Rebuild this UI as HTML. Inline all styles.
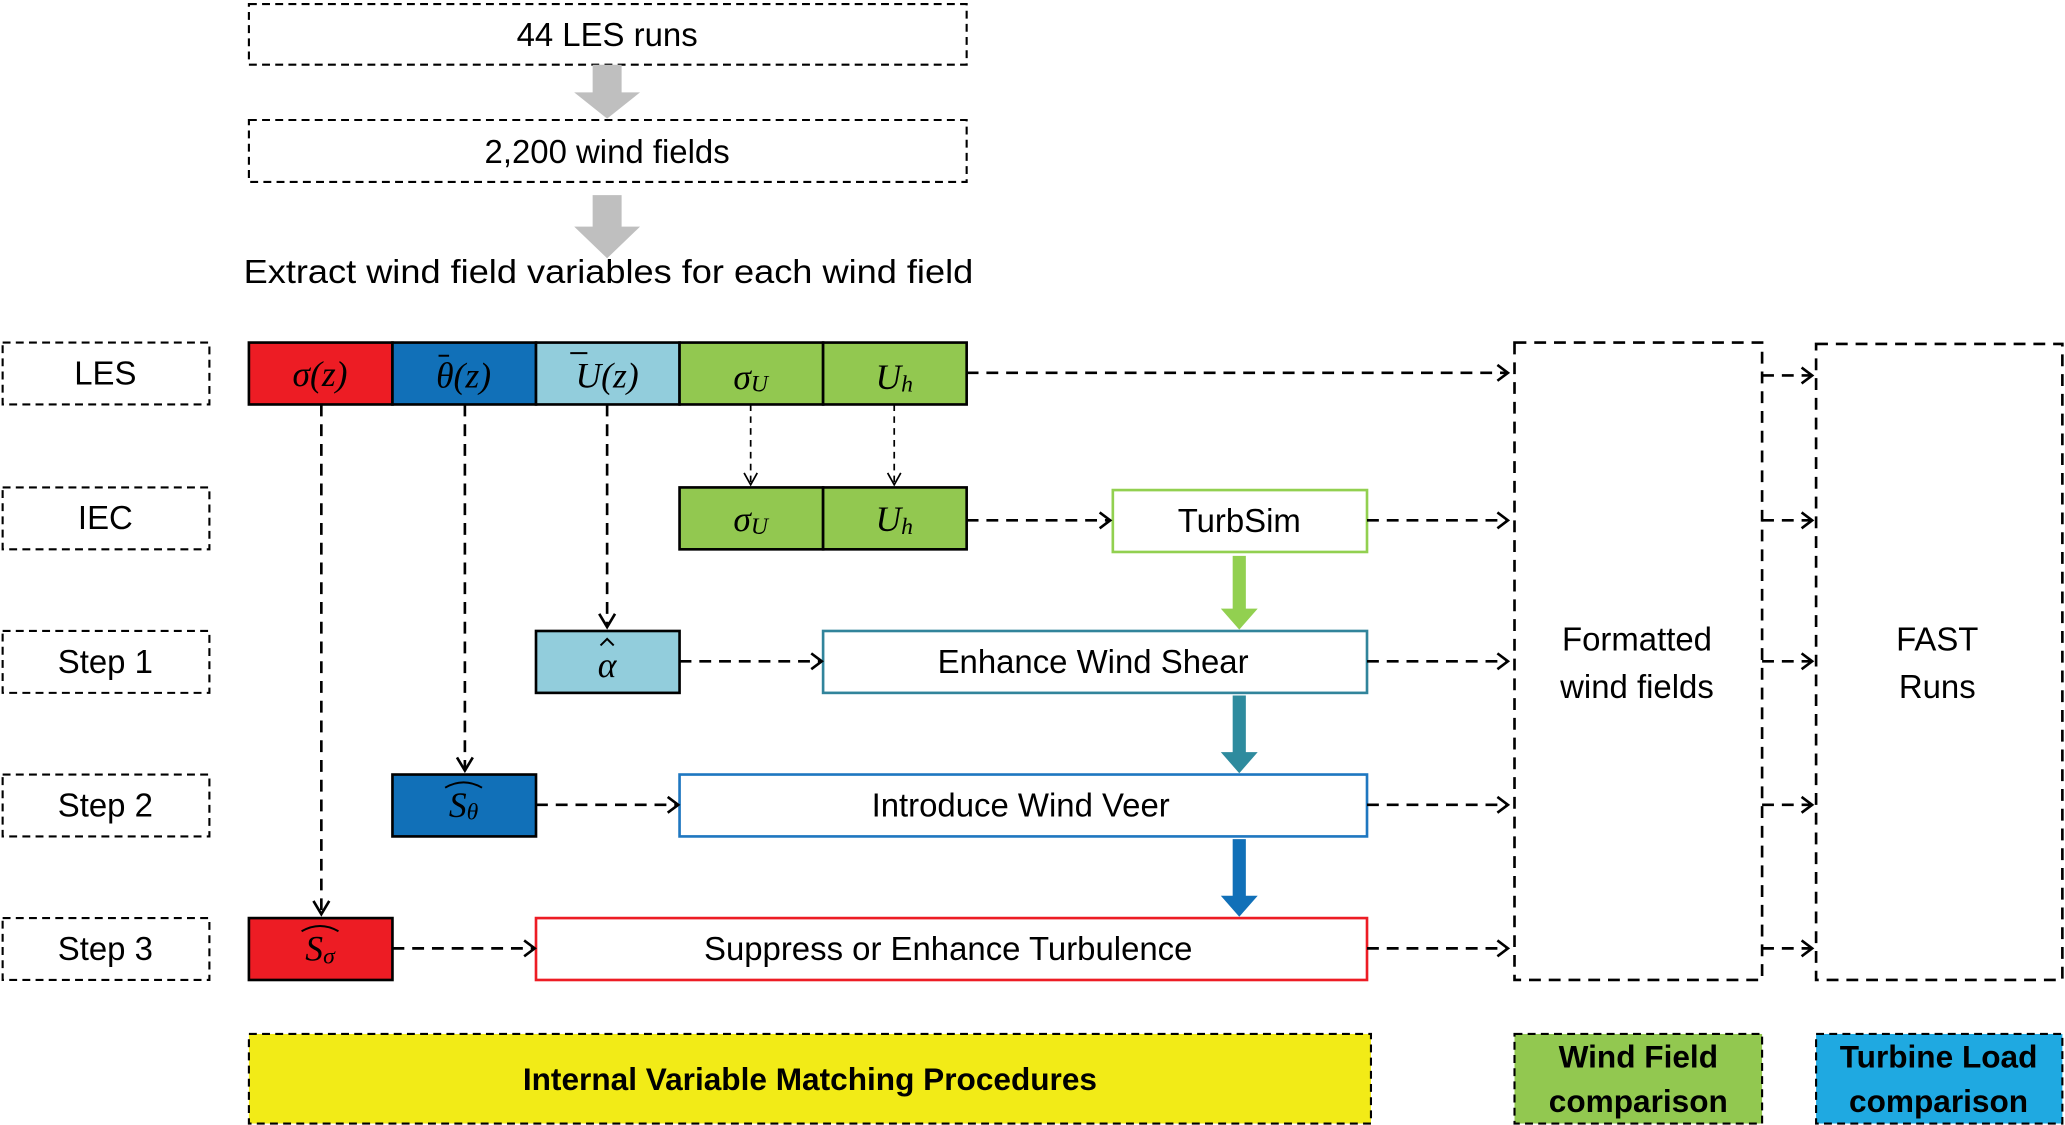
<!DOCTYPE html>
<html><head><meta charset="utf-8"><style>
html,body{margin:0;padding:0;background:#fff;}
svg{display:block;}
.t{font-family:"Liberation Sans",sans-serif;font-size:25px;fill:#000;text-anchor:middle;dominant-baseline:central;}
.m{font-family:"Liberation Serif",serif;font-style:italic;font-size:27px;fill:#000;text-anchor:middle;dominant-baseline:central;}
.b{font-family:"Liberation Sans",sans-serif;font-weight:bold;font-size:24px;fill:#000;text-anchor:middle;dominant-baseline:central;}
.d{stroke:#000;stroke-width:1.6;stroke-dasharray:6,4;}
.a{fill:none;stroke:#000;stroke-width:2;stroke-dasharray:9,6;}
.th{fill:none;stroke:#000;stroke-width:1.3;stroke-dasharray:5,4;}
.h{fill:none;stroke:#000;stroke-width:2;}
</style></head><body>
<svg width="2065" height="1125" viewBox="0 0 1568 854" xmlns="http://www.w3.org/2000/svg">
<!-- top -->
<rect x="189" y="3" width="545" height="46" class="d" style="fill:none"/>
<text x="461" y="26" class="t">44 LES runs</text>
<polygon points="450,49 472,49 472,70 486,70 461,90 436,70 450,70" fill="#bfbfbf"/>
<rect x="189" y="91" width="545" height="47" class="d" style="fill:none"/>
<text x="461" y="115" class="t">2,200 wind fields</text>
<polygon points="450,148 472,148 472,172 486,172 461,196 436,172 450,172" fill="#bfbfbf"/>
<text x="462" y="206" class="t" textLength="554" lengthAdjust="spacingAndGlyphs">Extract wind field variables for each wind field</text>

<!-- row labels -->
<rect x="2" y="260" width="157" height="47" class="d" style="fill:none"/><text x="80" y="283" class="t">LES</text>
<rect x="2" y="370" width="157" height="47" class="d" style="fill:none"/><text x="80" y="393" class="t">IEC</text>
<rect x="2" y="479" width="157" height="47" class="d" style="fill:none"/><text x="80" y="502" class="t">Step 1</text>
<rect x="2" y="588" width="157" height="47" class="d" style="fill:none"/><text x="80" y="611" class="t">Step 2</text>
<rect x="2" y="697" width="157" height="47" class="d" style="fill:none"/><text x="80" y="720" class="t">Step 3</text>

<!-- LES row -->
<rect x="189" y="260" width="109" height="47" fill="#ed1c24" stroke="#000" stroke-width="2"/>
<rect x="298" y="260" width="109" height="47" fill="#1170b8" stroke="#000" stroke-width="2"/>
<rect x="407" y="260" width="109" height="47" fill="#92cddc" stroke="#000" stroke-width="2"/>
<rect x="516" y="260" width="109" height="47" fill="#92c850" stroke="#000" stroke-width="2"/>
<rect x="625" y="260" width="109" height="47" fill="#92c850" stroke="#000" stroke-width="2"/>
<text x="243" y="284" class="m">σ(z)</text>
<text x="352" y="285" class="m">θ(z)</text>
<line x1="333" y1="270" x2="341" y2="270" stroke="#000" stroke-width="1.5"/>
<text x="461" y="285" class="m">U(z)</text>
<line x1="433" y1="268" x2="446" y2="268" stroke="#000" stroke-width="1.5"/>
<text x="570" y="286" class="m">σ<tspan font-size="18" dy="6">U</tspan></text>
<text x="679" y="286" class="m">U<tspan font-size="18" dy="6">h</tspan></text>

<!-- IEC row -->
<rect x="516" y="370" width="109" height="47" fill="#92c850" stroke="#000" stroke-width="2"/>
<rect x="625" y="370" width="109" height="47" fill="#92c850" stroke="#000" stroke-width="2"/>
<text x="570" y="394" class="m">σ<tspan font-size="18" dy="6">U</tspan></text>
<text x="679" y="394" class="m">U<tspan font-size="18" dy="6">h</tspan></text>
<rect x="845" y="372" width="193" height="47" fill="#fff" stroke="#92d050" stroke-width="2"/>
<text x="941" y="395" class="t">TurbSim</text>

<!-- step boxes -->
<rect x="407" y="479" width="109" height="47" fill="#92cddc" stroke="#000" stroke-width="2"/>
<text x="461" y="505" class="m">α</text>
<polyline points="456,490 461,485 466,490" fill="none" stroke="#000" stroke-width="1.5"/>
<rect x="625" y="479" width="413" height="47" fill="#fff" stroke="#31849b" stroke-width="2"/>
<text x="830" y="502" class="t">Enhance Wind Shear</text>
<rect x="298" y="588" width="109" height="47" fill="#1170b8" stroke="#000" stroke-width="2"/>
<text x="352" y="611" class="m">S<tspan font-size="18" dy="6">θ</tspan></text>
<path d="M338,598 Q352,590 366,598" fill="none" stroke="#000" stroke-width="1.5"/>
<rect x="516" y="588" width="522" height="47" fill="#fff" stroke="#1f77c0" stroke-width="2"/>
<text x="775" y="611" class="t">Introduce Wind Veer</text>
<rect x="189" y="697" width="109" height="47" fill="#ed1c24" stroke="#000" stroke-width="2"/>
<text x="243" y="720" class="m">S<tspan font-size="18" dy="6">σ</tspan></text>
<path d="M229,707 Q243,699 257,707" fill="none" stroke="#000" stroke-width="1.5"/>
<rect x="407" y="697" width="631" height="47" fill="#fff" stroke="#ed1c24" stroke-width="2"/>
<text x="720" y="720" class="t">Suppress or Enhance Turbulence</text>

<!-- thick arrows -->
<polygon points="936,422 946,422 946,462 955,462 941,478 927,462 936,462" fill="#92d050"/>
<polygon points="936,528 946,528 946,571 955,571 941,587 927,571 936,571" fill="#2e8b9e"/>
<polygon points="936,637 946,637 946,680 955,680 941,696 927,680 936,680" fill="#1170b8"/>

<!-- vertical dashed -->
<line x1="244" y1="307" x2="244" y2="694" class="a"/><polyline points="238,684 244,694 250,684" class="h"/>
<line x1="353" y1="307" x2="353" y2="585" class="a"/><polyline points="347,575 353,585 359,575" class="h"/>
<line x1="461" y1="307" x2="461" y2="476" class="a"/><polyline points="455,466 461,476 467,466" class="h"/>
<line x1="570" y1="307" x2="570" y2="368" class="th"/><polyline points="565,359 570,368 575,359" fill="none" stroke="#000" stroke-width="1.3"/>
<line x1="679" y1="307" x2="679" y2="368" class="th"/><polyline points="674,359 679,368 684,359" fill="none" stroke="#000" stroke-width="1.3"/>

<!-- horizontal dashed -->
<line x1="734" y1="283" x2="1145" y2="283" class="a"/><polyline points="1137,277 1145,283 1137,289" class="h"/>
<line x1="734" y1="395" x2="843" y2="395" class="a"/><polyline points="835,389 843,395 835,401" class="h"/>
<line x1="1038" y1="395" x2="1145" y2="395" class="a"/><polyline points="1137,389 1145,395 1137,401" class="h"/>
<line x1="516" y1="502" x2="624" y2="502" class="a"/><polyline points="616,496 624,502 616,508" class="h"/>
<line x1="1038" y1="502" x2="1145" y2="502" class="a"/><polyline points="1137,496 1145,502 1137,508" class="h"/>
<line x1="407" y1="611" x2="515" y2="611" class="a"/><polyline points="507,605 515,611 507,617" class="h"/>
<line x1="1038" y1="611" x2="1145" y2="611" class="a"/><polyline points="1137,605 1145,611 1137,617" class="h"/>
<line x1="298" y1="720" x2="406" y2="720" class="a"/><polyline points="398,714 406,720 398,726" class="h"/>
<line x1="1038" y1="720" x2="1145" y2="720" class="a"/><polyline points="1137,714 1145,720 1137,726" class="h"/>

<!-- right boxes -->
<rect x="1150" y="260" width="188" height="484" class="a"/>
<text x="1243" y="485" class="t">Formatted</text>
<text x="1243" y="521" class="t">wind fields</text>
<rect x="1379" y="261" width="187" height="483" class="a"/>
<text x="1471" y="485" class="t">FAST</text>
<text x="1471" y="521" class="t">Runs</text>
<g>
<line x1="1338" y1="285" x2="1376" y2="285" class="a"/><polyline points="1368,279 1376,285 1368,291" class="h"/>
<line x1="1338" y1="395" x2="1376" y2="395" class="a"/><polyline points="1368,389 1376,395 1368,401" class="h"/>
<line x1="1338" y1="502" x2="1376" y2="502" class="a"/><polyline points="1368,496 1376,502 1368,508" class="h"/>
<line x1="1338" y1="611" x2="1376" y2="611" class="a"/><polyline points="1368,605 1376,611 1368,617" class="h"/>
<line x1="1338" y1="720" x2="1376" y2="720" class="a"/><polyline points="1368,714 1376,720 1368,726" class="h"/>
</g>

<!-- bottom legend -->
<rect x="189" y="785" width="852" height="68" class="d" style="fill:#f2eb17"/>
<text x="615" y="819" class="b">Internal Variable Matching Procedures</text>
<rect x="1150" y="785" width="188" height="68" class="d" style="fill:#92c850"/>
<text x="1244" y="802" class="b">Wind Field</text>
<text x="1244" y="836" class="b">comparison</text>
<rect x="1379" y="785" width="187" height="68" class="d" style="fill:#1fa9e1"/>
<text x="1472" y="802" class="b">Turbine Load</text>
<text x="1472" y="836" class="b">comparison</text>
</svg>
</body></html>
